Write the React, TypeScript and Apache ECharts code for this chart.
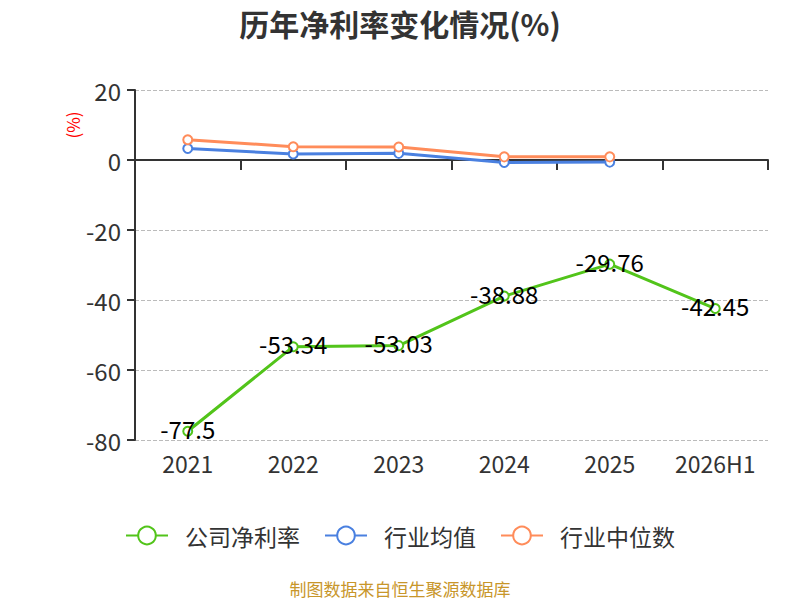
import React, { useEffect, useRef } from "react";
import * as echarts from "echarts";

const categories = ["2021", "2022", "2023", "2024", "2025", "2026H1"];
const companyRate = [-77.5, -53.34, -53.03, -38.88, -29.76, -42.45];
const industryAvg = [3.3, 1.7, 1.9, -0.7, -0.6, null];
const industryMedian = [5.8, 3.8, 3.7, 0.9, 0.9, null];

const FONT = "'Noto Sans CJK SC', 'Noto Sans', sans-serif";

export default function App() {
  const ref = useRef<HTMLDivElement>(null);
  useEffect(() => {
    if (!ref.current) return;
    const chart = echarts.init(ref.current, null, { renderer: "svg" });
    chart.setOption({
      animation: false,
      textStyle: { fontFamily: FONT },
      title: {
        text: "历年净利率变化情况(%)",
        left: "center",
        top: 3,
        textStyle: { fontSize: 30, fontWeight: "bold", color: "#333", fontFamily: FONT },
      },
      legend: {
        top: 519,
        left: "center",
        itemWidth: 42,
        itemHeight: 22,
        itemGap: 24,
        textStyle: { fontSize: 23, color: "#333", fontFamily: FONT, padding: [0, 0, 0, 12] },
        data: ["公司净利率", "行业均值", "行业中位数"],
      },
      graphic: [
        {
          type: "text",
          x: 400,
          y: 588,
          style: {
            text: "制图数据来自恒生聚源数据库",
            fill: "#c8962a",
            fontSize: 17,
            fontFamily: FONT,
            textAlign: "center",
            textVerticalAlign: "middle",
          },
        },
        {
          type: "text",
          x: 72,
          y: 125,
          rotation: Math.PI / 2,
          style: {
            text: "(%)",
            fill: "#ff0000",
            fontSize: 17,
            fontFamily: FONT,
            textAlign: "center",
            textVerticalAlign: "middle",
          },
        },
      ],
      grid: { left: 135, right: 32, top: 90, bottom: 160, containLabel: false },
      xAxis: [
        {
          type: "category",
          data: categories,
          axisLine: { onZero: true, lineStyle: { color: "#333", width: 2 } },
          axisTick: { show: true, length: 10, lineStyle: { color: "#333", width: 2 } },
          axisLabel: { show: false },
        },
        {
          type: "category",
          data: categories,
          position: "bottom",
          axisLine: { show: false, onZero: false },
          axisTick: { show: false },
          axisLabel: { fontSize: 23, color: "#333", margin: 11, interval: 0, fontFamily: FONT },
        },
      ],
      yAxis: {
        type: "value",
        min: -80,
        max: 20,
        interval: 20,
        axisLine: { show: true, lineStyle: { color: "#333", width: 2 } },
        axisTick: { show: true, length: 8, lineStyle: { color: "#333", width: 2 } },
        axisLabel: { fontSize: 24, color: "#333", margin: 14, fontFamily: FONT },
        splitLine: { show: true, lineStyle: { type: "dashed", color: "#bbb", width: 1 } },
      },
      series: [
        {
          name: "公司净利率",
          type: "line",
          data: companyRate,
          color: "#52c41a",
          symbol: "emptyCircle",
          symbolSize: 9,
          lineStyle: { width: 3 },
          label: {
            show: true,
            position: "inside",
            offset: [0, -3],
            color: "#000",
            fontSize: 24,
            fontFamily: FONT,
          },
          z: 3,
        },
        {
          name: "行业均值",
          type: "line",
          data: industryAvg,
          color: "#4a80e0",
          symbol: "emptyCircle",
          symbolSize: 9,
          lineStyle: { width: 3 },
          z: 2,
        },
        {
          name: "行业中位数",
          type: "line",
          data: industryMedian,
          color: "#ff8c5a",
          symbol: "emptyCircle",
          symbolSize: 9,
          lineStyle: { width: 3 },
          z: 2,
        },
      ],
    });
    return () => chart.dispose();
  }, []);
  return (
    <div
      ref={ref}
      style={{ position: "absolute", left: 0, top: 0, width: 800, height: 600 }}
    />
  );
}
